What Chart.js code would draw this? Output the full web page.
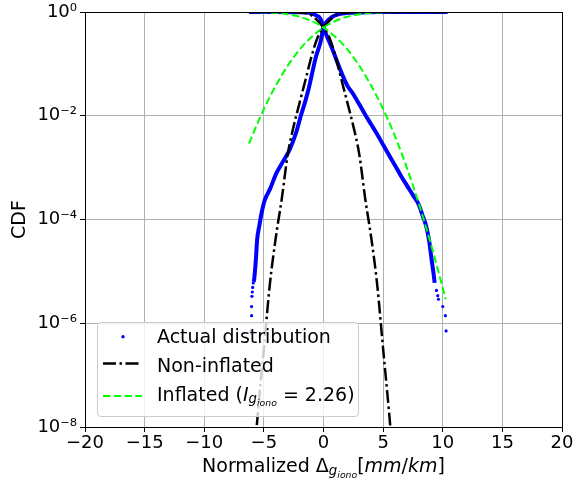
<!DOCTYPE html>
<html>
<head>
<meta charset="utf-8">
<script src="https://cdn.jsdelivr.net/npm/chart.js@4"></script>
<style>
  body { margin: 0; background: #fff; }
  #wrap { position: relative; width: 573px; height: 485px; font-family: "DejaVu Sans", sans-serif; color: #000; }
  #c { position: absolute; left: 0; top: 0; }
  #legendBox { position: absolute; left: 97px; top: 322px; width: 260px; height: 93px;
    border: 1px solid #cccccc; border-radius: 4px; background: rgba(255,255,255,0.8); }
  #legendSym { position: absolute; left: 0; top: 0; }
  .row { position: absolute; left: 157px; font-size: 19px; line-height: 19px; white-space: nowrap; }
  .sb { font-size: 0.7em; position: relative; top: 0.22em; }
  .sb .sb { top: 0.32em; }
  #xtitle { position: absolute; left: 85px; width: 477px; top: 456px; text-align: center;
    font-size: 19px; line-height: 19px; white-space: nowrap; }
</style>
</head>
<body>
<div id="wrap">
  <canvas id="c" width="573" height="485"></canvas>
  <div id="legendBox"></div>
  <svg id="legendSym" width="573" height="485">
    <circle cx="123" cy="336.7" r="1.7" fill="#0000ff"></circle>
    <line x1="103" y1="363.5" x2="142" y2="363.5" stroke="#000" stroke-width="2.5" stroke-dasharray="13 3.5 2.5 3.5"></line>
    <line x1="103" y1="396" x2="142" y2="396" stroke="#00ff00" stroke-width="2" stroke-dasharray="7.4 3.4"></line>
  </svg>
  <div class="row" style="top:327px">Actual distribution</div>
  <div class="row" style="top:355.5px">Non-inflated</div>
  <div class="row" style="top:384.5px">Inflated (<i>I</i><span class="sb"><i>g</i><span class="sb"><i>iono</i></span></span> = 2.26)</div>
  <div id="xtitle">Normalized Δ<span class="sb"><i>g</i><span class="sb"><i>iono</i></span></span>[<i>mm</i>/<i>km</i>]</div>
</div>
<script>
// axis ticks
const xTicks = [-20, -15, -10, -5, 0, 5, 10, 15, 20];
const yTicks = [1e-8, 1e-6, 1e-4, 1e-2, 1];
const yTickLabels = ["10⁻⁸", "10⁻⁶", "10⁻⁴", "10⁻²", "10⁰"];

// actual distribution, CDF branch (dense part)
const blueCdfX = [-5.86, -5.81, -5.67, -5.56, -5.39, -5.19, -4.92, -4.5, -3.94, -3.39, -2.83, -2.3, -1.9, -1.5, -1.22, -0.66, -0.24, 0, 0.25, 0.7, 1.3, 2.0, 3.0, 5.0, 7.0, 10.4];
const blueCdfY = [6.3e-6, 7.1e-6, 1.7e-5, 4.2e-5, 7.4e-5, 1.35e-4, 2.4e-4, 3.8e-4, 7.9e-4, 1.32e-3, 2.24e-3, 4.7e-3, 0.01, 0.02, 0.035, 0.13, 0.27, 0.5, 0.645, 0.8, 0.91, 0.962, 0.983, 0.997, 0.9995, 0.99999];
// actual distribution, 1-CDF branch (dense part)
const blueSfX = [-6.25, -4, -2, -1.5, -1.2, -0.66, -0.24, 0, 0.25, 0.7, 1.3, 2.0, 2.5, 3.0, 3.5, 4.0, 4.5, 5.0, 5.5, 6.0, 6.5, 7.0, 7.5, 8.0, 8.3, 8.6, 8.85, 9.05, 9.25, 9.32];
const blueSfY = [0.99999, 0.9993, 0.99, 0.98, 0.965, 0.87, 0.73, 0.5, 0.355, 0.204, 0.089, 0.038, 0.026, 0.0166, 0.0105, 6.8e-3, 4.4e-3, 2.75e-3, 1.74e-3, 1.1e-3, 6.9e-4, 4.5e-4, 2.95e-4, 1.9e-4, 1.2e-4, 7.6e-5, 4.0e-5, 1.8e-5, 8.3e-6, 6.0e-6];
// actual distribution, sparse tail points
const blueTailX = [-6.11, -6.03, -6.03, -6.0, -5.97, -5.94, -5.89, 9.47, 9.58, 9.64, 10.0, 10.22, 10.28];
const blueTailY = [7.1e-7, 1.4e-6, 2.1e-6, 3.3e-6, 4.0e-6, 4.9e-6, 6.0e-6, 4.3e-6, 3.4e-6, 2.9e-6, 2.1e-6, 1.4e-6, 7.1e-7];

// non-inflated
const normCdfX = [-5.75, -5.5, -5, -4.5, -4, -3.5, -3, -2.5, -2, -1.5, -1, -0.5, 0, 0.5, 1, 1.5, 2, 3, 4, 10.4];
const normCdfY = [4e-9, 1.9e-8, 3.2e-7, 5.6e-6, 4.5e-5, 2.5e-4, 1.8e-3, 6.3e-3, 0.018, 0.05, 0.14, 0.32, 0.5, 0.68, 0.86, 0.95, 0.982, 0.998, 0.99995, 1];
const normSfX = [-6.25, -4, -3, -2, -1.5, -1, -0.5, 0, 0.5, 1, 1.5, 2, 2.5, 3, 3.5, 4, 4.5, 5, 5.5, 5.75];
const normSfY = [1, 0.99995, 0.998, 0.982, 0.95, 0.86, 0.68, 0.5, 0.32, 0.14, 0.05, 0.018, 6.3e-3, 1.8e-3, 2.5e-4, 4.5e-5, 5.6e-6, 3.2e-7, 1.9e-8, 4e-9];

// inflated
const inflCdfX = [-6.25, -6, -5, -4, -3, -2, -1, 0, 1, 2, 3, 4, 5, 6, 8, 10.25];
const inflCdfY = [2.9e-3, 4.0e-3, 0.0135, 0.038, 0.092, 0.19, 0.33, 0.5, 0.67, 0.81, 0.908, 0.962, 0.9865, 0.996, 0.9998, 1];
const inflSfX = [-6.25, -6, -5, -4, -3, -2, -1, 0, 1, 2, 3, 4, 5, 6, 7, 8, 9, 10, 10.25];
const inflSfY = [0.9971, 0.996, 0.9865, 0.962, 0.908, 0.81, 0.67, 0.5, 0.33, 0.19, 0.092, 0.038, 0.0135, 4.0e-3, 9.8e-4, 2.0e-4, 3.4e-5, 4.8e-6, 2.9e-6];

const toPts = (xs, ys) => xs.map((x, i) => ({ x: x, y: ys[i] }));

function lineSet(xs, ys, color, width, dash, order) {
  return {
    data: toPts(xs, ys),
    showLine: true,
    borderColor: color,
    backgroundColor: color,
    borderWidth: width,
    borderDash: dash,
    pointRadius: 0,
    cubicInterpolationMode: "monotone",
    clip: 0,
    order: order,
  };
}

// top and right spines, like matplotlib's box
const framePlugin = {
  id: "frame",
  afterDatasetsDraw(chart) {
    const a = chart.chartArea;
    const c = chart.ctx;
    c.save();
    c.strokeStyle = "#000";
    c.lineWidth = 1;
    c.strokeRect(Math.round(a.left) + 0.5, Math.round(a.top) + 0.5, Math.round(a.right - a.left), Math.round(a.bottom - a.top));
    c.restore();
  },
};

Chart.defaults.font.family = "DejaVu Sans";
Chart.defaults.color = "#000";

new Chart(document.getElementById("c"), {
  type: "scatter",
  data: {
    datasets: [
      lineSet(blueCdfX, blueCdfY, "#0000ff", 4, [], 3),
      lineSet(blueSfX, blueSfY, "#0000ff", 4, [], 3),
      {
        data: toPts(blueTailX, blueTailY),
        showLine: false,
        pointRadius: 1.6,
        pointBorderWidth: 0,
        backgroundColor: "#0000ff",
        borderColor: "#0000ff",
        clip: 0,
        order: 3,
      },
      lineSet(normCdfX, normCdfY, "#000000", 2.5, [13, 3.5, 2.5, 3.5], 2),
      lineSet(normSfX, normSfY, "#000000", 2.5, [13, 3.5, 2.5, 3.5], 2),
      lineSet(inflCdfX, inflCdfY, "#00ff00", 2, [7.4, 3.4], 1),
      lineSet(inflSfX, inflSfY, "#00ff00", 2, [7.4, 3.4], 1),
    ],
  },
  options: {
    responsive: false,
    animation: false,
    devicePixelRatio: 1,
    layout: { padding: { left: 0, top: 12, right: 11, bottom: 0 } },
    plugins: { legend: { display: false }, tooltip: { enabled: false } },
    scales: {
      x: {
        type: "linear",
        min: -20,
        max: 20,
        afterBuildTicks: (s) => { s.ticks = xTicks.map((v) => ({ value: v })); },
        afterFit: (s) => { s.height = 58; s.paddingLeft = 0; s.paddingRight = 0; },
        ticks: {
          callback: (v) => (v < 0 ? "\u2212" + Math.abs(v) : String(v)),
          font: { size: 18 },
          color: "#000",
          padding: 1,
          maxRotation: 0,
          autoSkip: false,
        },
        grid: { color: "#b0b0b0", lineWidth: 1, tickColor: "#000", tickLength: 5 },
        border: { color: "#000", width: 1 },
      },
      y: {
        type: "logarithmic",
        min: 1e-8,
        max: 1,
        afterBuildTicks: (s) => { s.ticks = yTicks.map((v) => ({ value: v })); },
        afterFit: (s) => { s.width = 85; s.paddingTop = 0; s.paddingBottom = 0; },
        ticks: {
          callback: (v, i) => yTickLabels[i],
          font: { size: 18 },
          color: "#000",
          padding: 3,
          autoSkip: false,
        },
        grid: { color: "#b0b0b0", lineWidth: 1, tickColor: "#000", tickLength: 5 },
        border: { color: "#000", width: 1 },
        title: { display: true, text: "CDF", font: { size: 19 }, color: "#000", padding: { top: 9, bottom: 0 } },
      },
    },
  },
  plugins: [framePlugin],
});
</script>
</body>
</html>
